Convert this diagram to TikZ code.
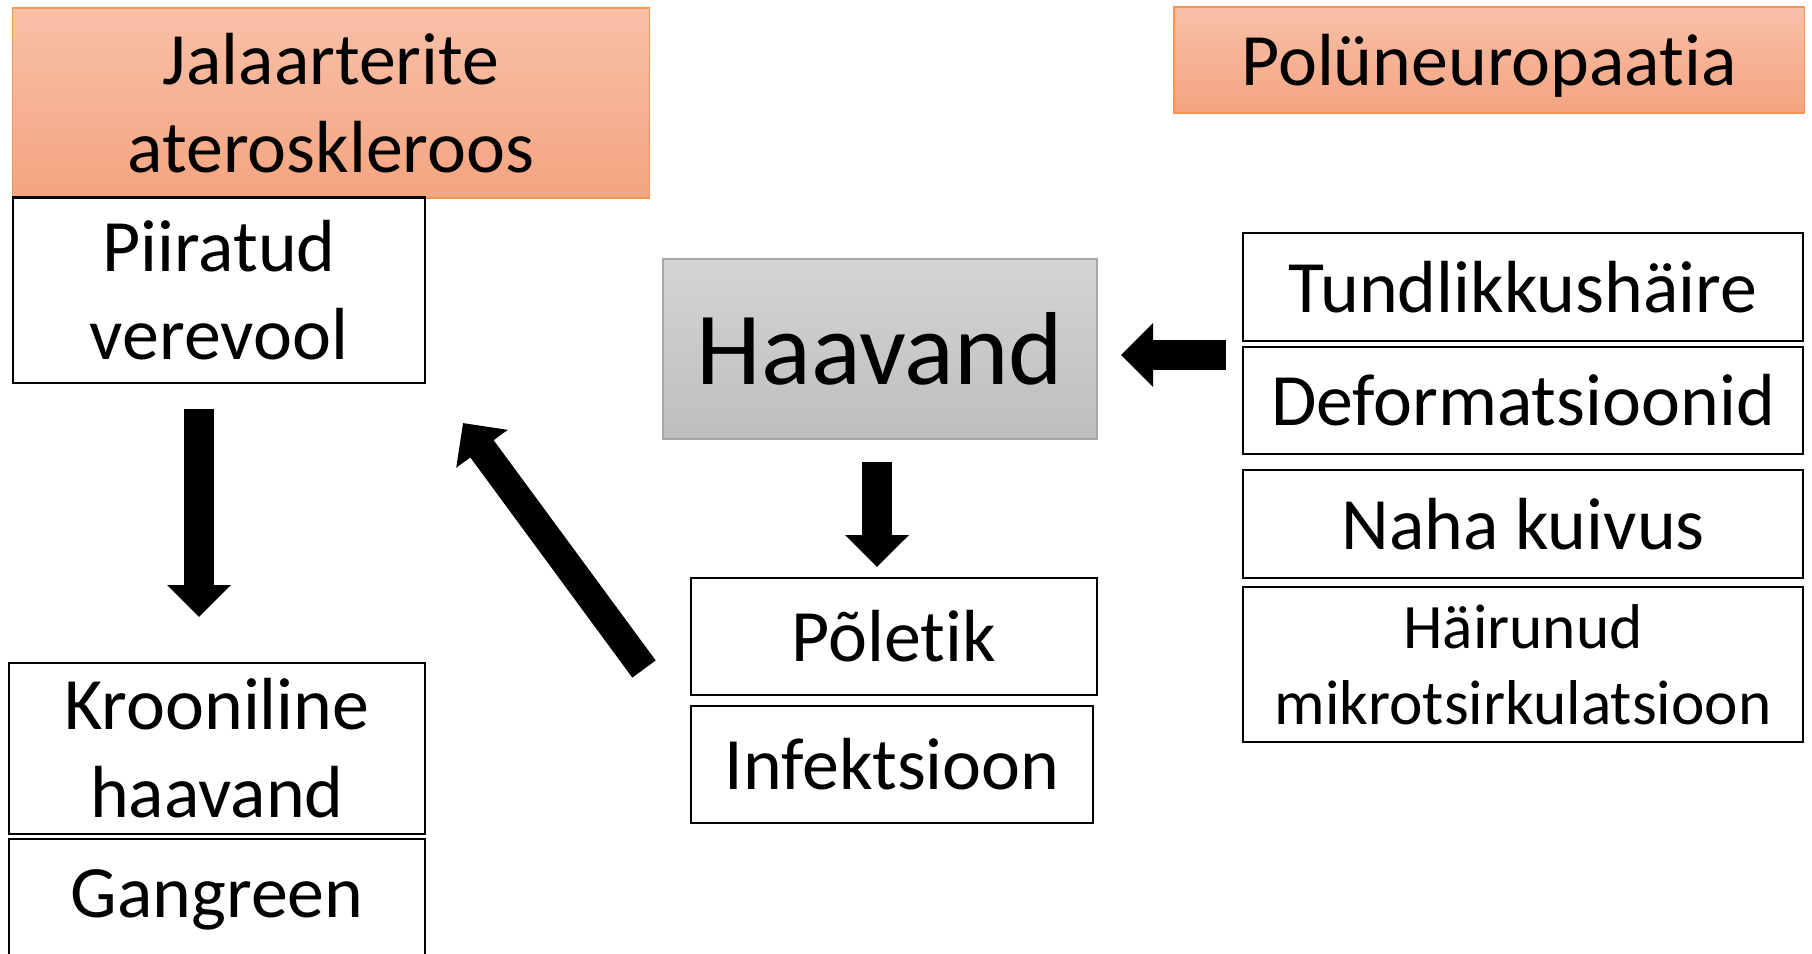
\documentclass[tikz,border=0pt]{standalone}
\usepackage{fontspec}
\setmainfont[Ligatures={NoCommon,NoContextual}, RawFeature={-liga,-clig,-calt}]{Carlito}
\usetikzlibrary{arrows.meta}
\definecolor{orangetop}{RGB}{248,192,168}
\definecolor{orangebot}{RGB}{244,164,128}
\definecolor{orangeline}{RGB}{246,150,80}
\definecolor{graytop}{RGB}{212,212,212}
\definecolor{graybot}{RGB}{190,190,190}
\tikzset{
  box/.style = {draw=black, line width=0.6pt, fill=white, inner sep=0pt,
                align=center, font=\fontsize{21}{25}\selectfont},
  cause/.style = {box, draw=orangeline, line width=0.4pt,
                  top color=orangetop, bottom color=orangebot},
  wound/.style = {box, draw=black!35, line width=0.4pt,
                  top color=graytop, bottom color=graybot,
                  font=\fontsize{29.5}{34}\selectfont},
  bigarrow/.style = {line width=0.30cm,
                     -{Triangle[width=0.62cm, length=0.32cm]}}
}

\begin{document}
\begin{tikzpicture}[x=0.01cm, y=-0.01cm]
	\useasboundingbox (0,0) rectangle (1812,953);
	\clip (0,0) rectangle (1812,953);

	% Causes
	\node[cause, minimum width=6.37cm, minimum height=1.90cm] (ather) at (331,103) {Jalaarterite\\ateroskleroos};
	\node[cause, minimum width=6.30cm, minimum height=1.06cm, text depth=0pt] (poly) at (1489,60) {Polüneuropaatia};

	% Left column
	\node[box, minimum width=4.12cm, minimum height=1.85cm] (piir) at (219,290) {Piiratud\\verevool};
	\node[box, minimum width=4.16cm, minimum height=1.71cm] (kroon) at (217,748.5) {Krooniline\\haavand};
	\node[box, minimum width=4.16cm, minimum height=1.21cm] (gang) at (217,899.5) {Gangreen};

	% Wound
	\node[wound, minimum width=4.34cm, minimum height=1.80cm] (haav) at (880,349) {Haavand};
	\node[box, minimum width=4.06cm, minimum height=1.17cm] (pole) at (894,636.5) {Põletik};
	\node[box, minimum width=4.02cm, minimum height=1.17cm] (infek) at (892,764.5) {Infektsioon};

	% Right column
	\node[box, minimum width=5.59cm, minimum height=1.08cm] (tund) at (1523,287) {Tundlikkushäire};
	\node[box, minimum width=5.59cm, minimum height=1.07cm] (deform) at (1523,400.5) {Deformatsioonid};
	\node[box, minimum width=5.59cm, minimum height=1.08cm] (naha) at (1523,524) {Naha kuivus};
	\node[box, minimum width=5.59cm, minimum height=1.55cm,
	      font=\fontsize{18}{21.5}\selectfont] (hair) at (1523,664.5) {Häirunud\\mikrotsirkulatsioon};

	% Arrow ends
	\coordinate (down1s) at (199,409);
	\coordinate (down1e) at (199,617);
	\coordinate (down2s) at (877,462);
	\coordinate (down2e) at (877,567);
	\coordinate (lefts) at (1226,355);
	\coordinate (lefte) at (1121,355);
	\coordinate (diags) at (644,669);
	\coordinate (diage) at (463,423);

	% Arrows
	\draw[bigarrow] (down1s) -- (down1e);
	\draw[bigarrow] (down2s) -- (down2e);
	\draw[bigarrow] (lefts) -- (lefte);
	\draw[bigarrow, line width=0.29cm] (diags) -- (diage);

\end{tikzpicture}
\end{document}
